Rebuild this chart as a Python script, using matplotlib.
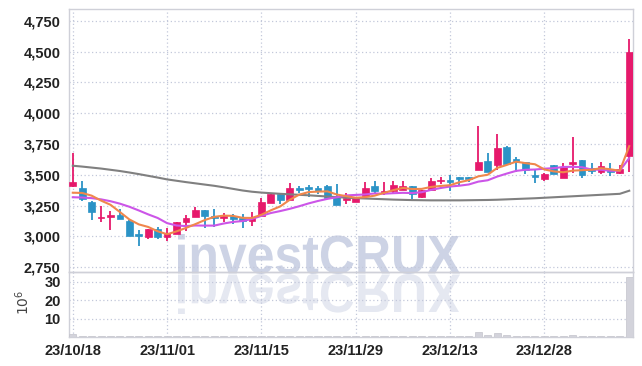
import numpy as np
import matplotlib
matplotlib.use('Agg')
import matplotlib.pyplot as plt
from matplotlib.textpath import TextPath
from matplotlib.patches import PathPatch
from matplotlib.font_manager import FontProperties
from matplotlib.transforms import Affine2D

# trading-day candles, 23/10/18 .. 24/01/12
opens = [3405, 3390, 3280, 3145, 3155, 3170, 3128, 3016, 2998, 3056,
         2992, 3022, 3118, 3160, 3210, 3167, 3151, 3164, 3145, 3125,
         3164, 3272, 3347, 3298, 3395, 3397, 3392, 3411, 3330, 3293,
         3282, 3325, 3411, 3352, 3371, 3379, 3411, 3317, 3379, 3446,
         3459, 3481, 3481, 3540, 3612, 3575, 3728, 3626, 3602, 3500,
         3467, 3580, 3473, 3588, 3621, 3553, 3519, 3548, 3513, 3650]
highs = [3680, 3445, 3285, 3250, 3205, 3222, 3130, 3050, 3062, 3078,
         3070, 3120, 3170, 3236, 3212, 3223, 3190, 3185, 3185, 3196,
         3312, 3355, 3350, 3432, 3412, 3413, 3411, 3413, 3427, 3352,
         3322, 3441, 3449, 3438, 3446, 3446, 3412, 3380, 3473, 3478,
         3500, 3482, 3483, 3895, 3675, 3830, 3730, 3640, 3605, 3540,
         3510, 3582, 3594, 3810, 3622, 3594, 3602, 3594, 3580, 4601]
lows = [3400, 3285, 3135, 3118, 3055, 3140, 3000, 2922, 2981, 2975,
        2962, 3015, 3045, 3158, 3070, 3078, 3118, 3097, 3070, 3083,
        3160, 3270, 3263, 3295, 3352, 3320, 3347, 3310, 3255, 3266,
        3280, 3322, 3344, 3339, 3340, 3377, 3304, 3315, 3377, 3427,
        3365, 3411, 3438, 3538, 3520, 3540, 3585, 3521, 3505, 3433,
        3446, 3505, 3470, 3513, 3473, 3508, 3508, 3492, 3508, 3521]
closes = [3440, 3305, 3200, 3160, 3177, 3143, 3003, 3003, 3056, 2998,
          3024, 3118, 3145, 3210, 3165, 3152, 3167, 3137, 3127, 3160,
          3282, 3347, 3298, 3392, 3373, 3385, 3365, 3312, 3258, 3309,
          3320, 3392, 3371, 3371, 3419, 3411, 3347, 3379, 3451, 3459,
          3438, 3467, 3467, 3602, 3524, 3717, 3586, 3602, 3540, 3478,
          3508, 3508, 3566, 3607, 3494, 3527, 3572, 3521, 3548, 4494]
# volume in 10^6 shares
volumes = [1.6, 0.4, 0.4, 0.3, 0.3, 0.3, 0.4, 0.3, 0.3, 0.3,
           0.3, 0.3, 0.3, 0.4, 0.3, 0.3, 0.3, 0.3, 0.3, 0.3,
           0.5, 0.4, 0.3, 0.4, 0.3, 0.3, 0.3, 0.3, 0.4, 0.3,
           0.3, 0.4, 0.3, 0.3, 0.3, 0.3, 0.3, 0.3, 0.4, 0.3,
           0.3, 0.3, 0.3, 2.8, 1.1, 2.1, 1.0, 0.5, 0.4, 0.3,
           0.3, 0.4, 0.4, 0.9, 0.4, 0.3, 0.3, 0.3, 0.3, 32.2]

ma5 = [3354, 3352, 3330, 3290, 3256, 3197, 3137, 3097, 3076, 3041,
       3017, 3040, 3068, 3099, 3132, 3158, 3168, 3166, 3150, 3149,
       3175, 3211, 3243, 3296, 3338, 3359, 3363, 3365, 3339, 3326,
       3313, 3318, 3330, 3353, 3375, 3393, 3384, 3385, 3401, 3409,
       3415, 3439, 3456, 3487, 3500, 3555, 3579, 3606, 3594, 3585,
       3543, 3527, 3520, 3533, 3537, 3540, 3553, 3544, 3532, 3732]
ma10 = [3317, 3315, 3310, 3300, 3285, 3265, 3240, 3210, 3178, 3149,
        3107, 3088, 3083, 3088, 3087, 3087, 3104, 3117, 3124, 3141,
        3166, 3189, 3205, 3223, 3244, 3267, 3287, 3304, 3317, 3332,
        3336, 3340, 3348, 3346, 3350, 3353, 3351, 3358, 3377, 3392,
        3404, 3411, 3421, 3444, 3455, 3485, 3509, 3531, 3540, 3542,
        3549, 3553, 3563, 3564, 3561, 3542, 3540, 3532, 3533, 3635]
ma60 = [3573, 3566, 3558, 3550, 3540, 3530, 3518, 3505, 3491, 3477,
        3462, 3451, 3440, 3430, 3420, 3410, 3398, 3385, 3372, 3362,
        3355, 3350, 3345, 3341, 3337, 3333, 3328, 3323, 3318, 3314,
        3310, 3307, 3304, 3301, 3298, 3296, 3294, 3293, 3292, 3292,
        3292, 3292, 3293, 3294, 3295, 3297, 3300, 3303, 3306, 3309,
        3313, 3317, 3321, 3325, 3329, 3333, 3337, 3341, 3345, 3370]

date_pos = [0, 10, 20, 30, 40, 50]
date_labels = ['23/10/18', '23/11/01', '23/11/15', '23/11/29', '23/12/13', '23/12/28']
price_ticks = [2750, 3000, 3250, 3500, 3750, 4000, 4250, 4500, 4750]
vol_ticks = [10, 20, 30]

UP = '#e6196b'
DOWN = '#2b93c6'
W, H = 642, 366

tick_font = FontProperties(family=['Liberation Sans', 'DejaVu Sans'], weight='bold', size=10.5)

fig = plt.figure(figsize=(W / 100, H / 100), dpi=100)
fig.patch.set_facecolor('white')
ax = fig.add_axes([69 / W, 1 - 272.3 / H, (633 - 69) / W, (272.3 - 9) / H])
axv = fig.add_axes([69 / W, 1 - 337 / H, (633 - 69) / W, (337 - 272.3) / H], sharex=ax)

# watermark with reflection, drawn behind the axes
wm_font = FontProperties(family='Liberation Sans', weight='bold')
tp = TextPath((0, 0), 'investCRUX', size=100, prop=wm_font)
bb = tp.get_extents()
x0, x1, ytop, ybase = 178, 460, 234, 274
sx = (x1 - x0) / bb.width / W
sy = (ybase - ytop) / bb.height / H
t_main = Affine2D().translate(-bb.x0, -bb.y0).scale(sx, sy).translate(x0 / W, 1 - ybase / H)
t_refl = Affine2D().translate(-bb.x0, -bb.y0).scale(sx, -sy).translate(x0 / W, 1 - ybase / H)
fig.add_artist(PathPatch(tp, transform=t_refl + fig.transFigure, facecolor='#e5e8f1',
                         edgecolor='none', zorder=-2))
fig.add_artist(PathPatch(tp, transform=t_main + fig.transFigure, facecolor='#cdd3e5',
                         edgecolor='none', zorder=-1))

x = np.arange(len(closes))
o = np.array(opens)
c = np.array(closes)
colors = [UP if cc >= oo else DOWN for oo, cc in zip(o, c)]

ax.vlines(x, lows, highs, colors=colors, linewidth=1.3, zorder=3)
ax.bar(x, np.abs(c - o), bottom=np.minimum(o, c), width=0.72, color=colors,
       edgecolor=colors, linewidth=0.5, zorder=4)
ax.plot(x, ma60, color='#808080', linewidth=1.5, zorder=5)
ax.plot(x, ma10, color='#cc55e8', linewidth=1.5, zorder=5)
ax.plot(x, ma5, color='#f0874c', linewidth=1.5, zorder=6)

axv.bar(x, volumes, width=0.75, color='#d3d3db', edgecolor='#c4c4cc', linewidth=0.5, zorder=3)

for a in (ax, axv):
    a.set_facecolor('none')
    a.grid(True, color='#c3c8da', linestyle=(0, (1, 2)), linewidth=0.9)
    a.set_axisbelow(True)
    a.tick_params(length=0, colors='#222222')
    for s in ('left', 'right', 'top', 'bottom'):
        a.spines[s].set_color('#cfd0d8')
        a.spines[s].set_linewidth(1.0)

ax.set_xlim(-0.4, 59.4)
ax.set_ylim(2708, 4845)
ax.set_yticks(price_ticks)
ax.set_yticklabels([f'{v:,}' for v in price_ticks], fontproperties=tick_font)
ax.tick_params(axis='y', pad=6)
ax.tick_params(axis='x', labelbottom=False)
ax.set_xticks(date_pos)

axv.set_ylim(0, 35)
axv.set_yticks(vol_ticks)
axv.set_yticklabels([str(v) for v in vol_ticks], fontproperties=tick_font)
axv.tick_params(axis='y', pad=6)
axv.set_xticks(date_pos)
axv.set_xticklabels(date_labels, fontproperties=tick_font)
axv.tick_params(axis='x', pad=5)
axv.set_ylabel(r'$10^6$', rotation=90, fontsize=10, color='#444444')
axv.yaxis.set_label_coords(-0.066, 0.54)

fig.savefig('out.png', dpi=100)
